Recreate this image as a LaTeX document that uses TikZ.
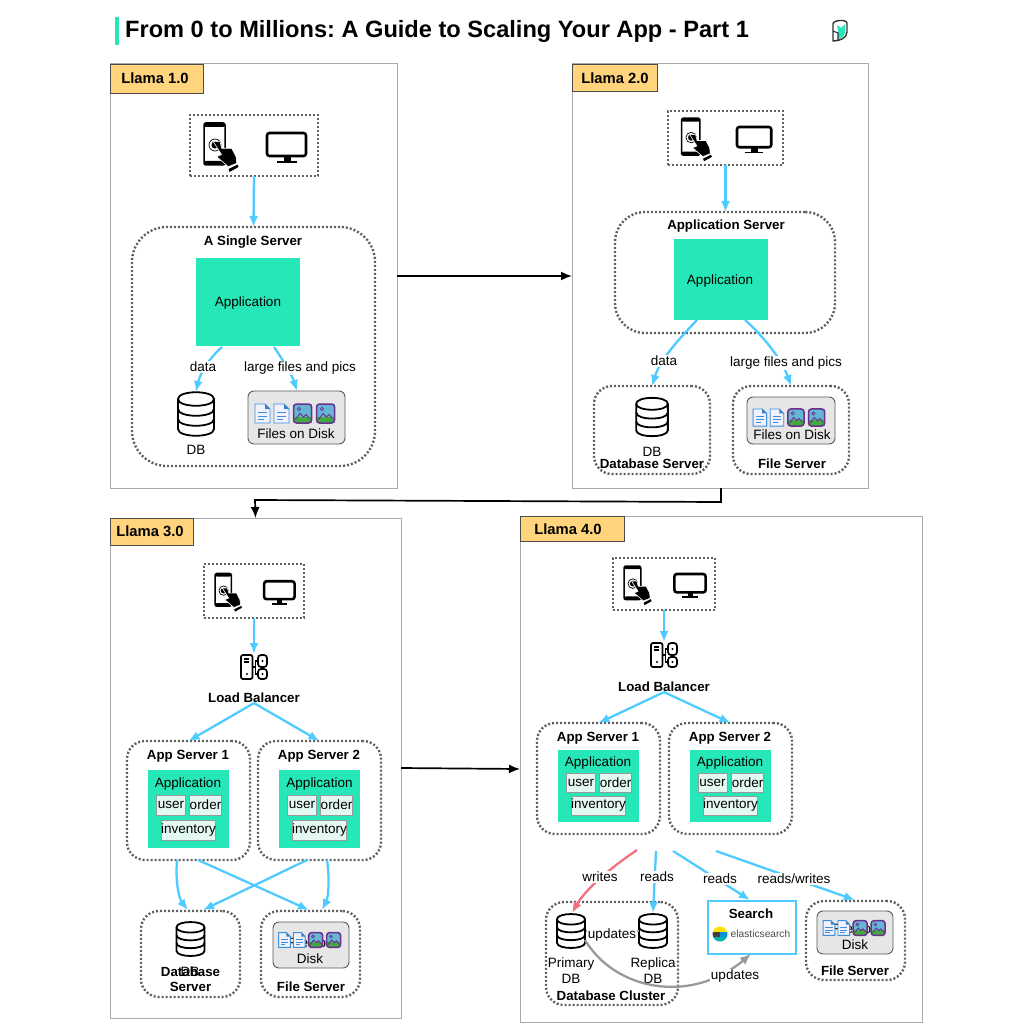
\documentclass[tikz,border=0pt]{standalone}
\usepackage{fontspec}
\setmainfont{Liberation Sans}
\usetikzlibrary{arrows.meta}
\frenchspacing

\definecolor{teal1}{HTML}{26E7B7}
\definecolor{sky1}{HTML}{4FCBFF}
\definecolor{rose1}{HTML}{F4707F}
\definecolor{tag1}{HTML}{FFD47D}
\definecolor{dots1}{HTML}{606060}
\definecolor{line1}{HTML}{AAAAAA}
\definecolor{mod1}{HTML}{E3F8F1}
\definecolor{disk1}{HTML}{E6E6E6}
\definecolor{doc1}{HTML}{3F8EDC}
\definecolor{img1}{HTML}{6B2D8E}

\tikzset{
  boxsize/.style 2 args={minimum width=#1pt,minimum height=#2pt},
  txt/.style={font=\fontsize{13.5}{16}\selectfont,inner sep=0pt,align=center,yshift=-1pt},
  bld/.style={font=\bfseries\fontsize{13.3}{15}\selectfont,inner sep=0pt,align=center,yshift=-1pt},
  lbl/.style={txt,fill=white,inner sep=1pt},
  panel/.style={draw=line1,line width=1pt,inner sep=0pt,outer sep=0pt},
  tagbox/.style={draw=black!70,fill=tag1,line width=.9pt,inner sep=0pt,outer sep=0pt},
  tagtxt/.style={inner sep=0pt,font=\bfseries\fontsize{14.8}{16}\selectfont},
  dotbox/.style={draw=dots1,line width=2.4pt,dash pattern=on 2pt off 2pt,inner sep=0pt,outer sep=0pt},
  appbox/.style={fill=teal1,inner sep=0pt,outer sep=0pt},
  modbox/.style={fill=mod1,draw=black!40,line width=1pt,txt,yshift=1pt,outer sep=0pt},
  diskbox/.style={fill=disk1,draw=black!65,line width=.9pt,rounded corners=6pt,inner sep=0pt,outer sep=0pt},
  spot/.style={inner sep=0pt,outer sep=0pt},
  flow/.style={draw=sky1,line width=2.3pt,-{Latex[length=11pt,width=9pt]}},
  wflow/.style={draw=rose1,line width=2.3pt,-{Latex[length=11pt,width=9pt]}},
  uflow/.style={draw=black!40,line width=2.3pt,-{Latex[length=11pt,width=9pt]}},
  stepflow/.style={draw=black,line width=1.7pt,-{Latex[length=11pt,width=9pt]}},
  phoneicon/.pic={
    \draw[line width=1.5pt,fill=white,rounded corners=2pt] (-10.5,-21) rectangle (10.5,21);
    \fill (-10.5,-21) [rounded corners=2pt] rectangle (10.5,-17);
    \fill (-10.5,17) [rounded corners=2pt] rectangle (10.5,21);
    \draw[line width=.7pt] (.5,1) circle [radius=6];
    \fill (.5,1) circle [radius=3.6];
    \fill[draw=white,line width=.6pt] (-1.2,-2.3) -- (5.5,-2.3) -- (7.2,4.3) -- (17.2,4.3) -- (21.5,12.7) -- (22.2,19.3) -- (13.8,22.7) -- (2.2,12.7) -- (7,10.5) -- cycle;
    \fill (14,25) -- (23,20.5) -- (24,23) -- (15,28) -- cycle;
  },
  monitoricon/.pic={
    \draw[line width=2.6pt,fill=white,rounded corners=2.5pt] (-19.5,-14) rectangle (19.5,9);
    \fill (-3,10) rectangle (4,14);
    \fill (-10,14) rectangle (10,16);
  },
  devices/.pic={
    \pic[transform shape] at (-39.5,-1.5) {phoneicon};
    \pic[transform shape] at (32.5,1.5) {monitoricon};
  },
  dbicon/.pic={
    \draw[line width=1.8pt,fill=white] (-18,-15) .. controls (-18,-24) and (18,-24) .. (18,-15) -- (18,15) .. controls (18,24) and (-18,24) .. (-18,15) -- cycle;
    \draw[line width=1.8pt] (-18,-15) .. controls (-18,-6) and (18,-6) .. (18,-15);
    \draw[line width=1.8pt] (-18,-5) .. controls (-18,4) and (18,4) .. (18,-5);
    \draw[line width=1.8pt] (-18,5) .. controls (-18,14) and (18,14) .. (18,5);
  },
  lbicon/.pic={
    \draw[line width=1.7pt,rounded corners=2pt] (-13,-12) rectangle (-1.5,12);
    \draw[line width=1.7pt,rounded corners=3pt] (4,-12) rectangle (13,0);
    \draw[line width=1.7pt,rounded corners=3pt] (4,2) rectangle (13,12);
    \draw[line width=1.4pt] (-1.5,0) -- (1.5,0) (4,-6) -- (1.5,-6) -- (1.5,7) -- (4,7);
    \draw[line width=1.1pt] (-10,-8) -- (-5,-8) (-10,-5) -- (-5,-5);
    \fill (-7,7) circle [radius=1.2];
    \fill (8.5,-6) circle [radius=1.2];
    \fill (8.5,7) circle [radius=1.2];
  },
  docicon/.pic={
    \draw[draw=doc1,fill=blue!5,line width=.9pt] (-7.5,-9.5) -- (2.5,-9.5) -- (7.5,-4.5) -- (7.5,9.5) -- (-7.5,9.5) -- cycle;
    \fill[doc1!90!black] (2.5,-9.5) -- (7.5,-4.5) -- (2.5,-4.5) -- cycle;
    \draw[doc1,line width=.9pt] (-4.5,-1) -- (4.5,-1) (-4.5,2.5) -- (4.5,2.5) (-4.5,6) -- (1,6);
  },
  imgicon/.pic={
    \fill[cyan!55!teal!70] (-9,-9.5) rectangle (9,9.5);
    \fill[green!55!black!75] (-8.5,3) -- (8.5,3) -- (8.5,9) -- (-8.5,9) -- cycle;
    \draw[img1,line width=.9pt] (-7,6) -- (-2.5,0) -- (1,3.5) -- (3.5,1) -- (7,5);
    \draw[img1,line width=.7pt] (-3.5,-4.5) circle [radius=1.7];
    \draw[img1,line width=1.5pt,rounded corners=3pt] (-9,-9.5) rectangle (9,9.5);
  },
  filerow/.pic={
    \pic[transform shape] at (-34,0) {docicon};
    \pic[transform shape] at (-15,0) {docicon};
    \pic[transform shape] at (6,0) {imgicon};
    \pic[transform shape] at (29,0) {imgicon};
  },
}

\begin{document}
\begin{tikzpicture}[x=1pt,y=-1pt]
\useasboundingbox (0,0) rectangle (1024,1024);
\fill[white] (0,0) rectangle (1024,1024);

% title and logo
\fill[teal1] (115,17) rectangle (118.5,45);
\node[anchor=west,inner sep=0pt,yshift=-1.5pt,font=\bfseries\fontsize{23.6}{26}\selectfont] (title) at (125,30) {From 0 to Millions: A Guide to Scaling Your App - Part 1};
\fill[teal1] (837,25) -- (841,28) -- (845,24) -- (845,32) .. controls (845,36) and (841,39) .. (838,39) -- (838,31) -- cycle;
\draw[line width=1.4pt,black!80,line join=round] (833,24) .. controls (833,20) and (846,19) .. (847,23) -- (847,32) .. controls (847,38) and (840,41) .. (833,41) -- cycle;
\draw[line width=1.1pt,black!80] (833,31) -- (838,33) -- (838,40);

% panels
\node[panel,boxsize={287}{424}] (panelA) at (253.5,276) {};
\node[panel,boxsize={296}{424}] (panelB) at (720,276) {};
\node[panel,boxsize={291}{500}] (panelC) at (255.5,768) {};
\node[panel,boxsize={402}{506}] (panelD) at (721,769) {};
\node[tagbox,boxsize={93}{29}] (tagA) at (156.5,78.5) {};
\node[tagbox,boxsize={85}{27}] (tagB) at (614.5,77.5) {};
\node[tagbox,boxsize={83}{27}] (tagC) at (151.5,531.5) {};
\node[tagbox,boxsize={104}{25}] (tagD) at (572,528.5) {};
\node[tagtxt] (tagAt) at (155,78) {Llama 1.0};
\node[tagtxt] (tagBt) at (615,78) {Llama 2.0};
\node[tagtxt] (tagCt) at (150,531) {Llama 3.0};
\node[tagtxt] (tagDt) at (568,529) {Llama 4.0};

% Llama 1.0
\node[dotbox,boxsize={128}{61}] (devA) at (254,145.5) {};
\pic at (devA) {devices};
\node[dotbox,rounded corners=35pt,boxsize={243}{239}] (srvA) at (253.5,346.5) {};
\node[bld] (srvAt) at (253,241) {A Single Server};
\node[appbox,boxsize={104}{88}] (appA) at (248,302) {};
\node[txt] (appAt) at (248,302) {Application};
\node[spot,boxsize={37}{44}] (dbA) at (196,414) {};
\pic at (dbA) {dbicon};
\node[txt] (dbAt) at (196,449) {DB};
\node[diskbox,boxsize={97}{53}] (diskA) at (296.5,417.5) {};
\pic at (296.5,413.5) {filerow};
\node[txt] (diskAt) at (296,433) {Files on Disk};
\coordinate (outA1) at (222,347);
\coordinate (outA2) at (274,347);
\coordinate (inA2) at (297,391);
\draw[flow] (devA.south) -- (srvA.north);
\draw[flow] (outA1) .. controls (205,362) and (199,378) .. (dbA.north);
\draw[flow] (outA2) .. controls (283,360) and (292,375) .. (inA2);
\node[lbl] (dataA) at (203,366) {data};
\node[lbl] (bigA) at (300,367) {large files and pics};

% Llama 2.0
\node[dotbox,boxsize={115}{54}] (devB) at (725.5,138) {};
\pic[scale=.88] at (devB) {devices};
\node[dotbox,rounded corners=30pt,boxsize={220}{121}] (srvB) at (725,272.5) {};
\node[bld] (srvBt) at (726,225) {Application Server};
\node[appbox,boxsize={94}{81}] (appB) at (721,279.5) {};
\node[txt] (appBt) at (720,280) {Application};
\node[dotbox,rounded corners=18pt,boxsize={116}{88}] (dbsB) at (652,430) {};
\node[spot,boxsize={33}{38}] (dbB) at (652,417) {};
\pic[scale=.88] at (dbB) {dbicon};
\node[txt] (dbBt) at (652,451) {DB};
\node[bld] (dbsBt) at (652,463) {Database Server};
\node[dotbox,rounded corners=18pt,boxsize={116}{88}] (fsB) at (791,430) {};
\node[diskbox,boxsize={88}{47}] (diskB) at (791,420.5) {};
\pic[scale=.9] at (790.5,417.5) {filerow};
\node[txt] (diskBt) at (792,434) {Files on Disk};
\node[bld] (fsBt) at (792,463) {File Server};
\coordinate (outB1) at (697,320);
\coordinate (outB2) at (745,320);
\draw[flow] (devB.south) -- (srvB.north -| devB.south);
\draw[flow] (outB1) .. controls (678,340) and (660,360) .. (dbsB.north);
\draw[flow] (outB2) .. controls (765,338) and (782,360) .. (fsB.north);
\node[lbl] (dataB) at (664,360) {data};
\node[lbl] (bigB) at (786,362) {large files and pics};

% Llama 3.0
\node[dotbox,boxsize={100}{54}] (devC) at (254,591) {};
\pic[scale=.78] at (devC) {devices};
\node[spot,boxsize={26}{26}] (lbC) at (254,667) {};
\pic at (lbC) {lbicon};
\node[bld] (lbCt) at (254,697) {Load Balancer};
\node[dotbox,rounded corners=18pt,boxsize={123}{119}] (srvC1) at (188.5,800.5) {};
\node[bld] (srvC1t) at (188,755) {App Server 1};
\node[appbox,boxsize={81}{78}] (appC1) at (188.5,809) {};
\node[txt] (appC1t) at (188,783) {Application};
\node[modbox,boxsize={29}{20}] (userC1) at (171,805) {user};
\node[modbox,boxsize={29}{20}] (orderC1) at (205.5,805) {order};
\node[modbox,boxsize={53}{20}] (invC1) at (188.5,830) {inventory};
\node[dotbox,rounded corners=18pt,boxsize={123}{119}] (srvC2) at (319.5,800.5) {};
\node[bld] (srvC2t) at (319,755) {App Server 2};
\node[appbox,boxsize={81}{78}] (appC2) at (319.5,809) {};
\node[txt] (appC2t) at (319.5,783) {Application};
\node[modbox,boxsize={29}{20}] (userC2) at (302,805) {user};
\node[modbox,boxsize={29}{20}] (orderC2) at (336.5,805) {order};
\node[modbox,boxsize={53}{20}] (invC2) at (319.5,830) {inventory};
\node[dotbox,rounded corners=18pt,boxsize={99}{86}] (dbsC) at (190.5,954) {};
\node[spot,boxsize={29}{31}] (dbC) at (190.5,939) {};
\pic[scale=.78] at (dbC) {dbicon};
\node[bld] (dbsCt) at (190.5,978.5) {Database\\Server};
\node[txt] (dbCt) at (190,971) {DB};
\node[dotbox,rounded corners=18pt,boxsize={99}{86}] (fsC) at (310.5,954) {};
\node[diskbox,boxsize={76}{46}] (diskC) at (311,945) {};
\node[txt] (diskCt) at (310,950) {Files on\\Disk};
\pic[scale=.78] at (311,940) {filerow};
\node[bld] (fsCt) at (311,986) {File Server};
\coordinate (outC1) at (177,860);
\coordinate (outC2) at (198,860);
\coordinate (outC3) at (307,860);
\coordinate (outC4) at (327,860);
\coordinate (inC1) at (188,910);
\coordinate (inC2) at (309,910);
\coordinate (inC3) at (203,910);
\coordinate (inC4) at (322,910);
\draw[flow] (devC.south) -- (lbC.north);
\draw[flow] (lbCt.south) -- (srvC1.north);
\draw[flow] (lbCt.south) -- (srvC2.north);
\draw[flow] (outC1) .. controls (175,885) and (180,900) .. (inC1);
\draw[flow] (outC2) -- (inC2);
\draw[flow] (outC3) -- (inC3);
\draw[flow] (outC4) .. controls (330,880) and (328,898) .. (inC4);

% Llama 4.0
\node[dotbox,boxsize={102}{52}] (devD) at (664,584) {};
\pic[scale=.8] at (devD) {devices};
\node[spot,boxsize={26}{26}] (lbD) at (664,655) {};
\pic at (lbD) {lbicon};
\node[bld] (lbDt) at (664,686) {Load Balancer};
\node[dotbox,rounded corners=18pt,boxsize={123}{111}] (srvD1) at (598.5,778.5) {};
\node[bld] (srvD1t) at (598,737) {App Server 1};
\node[appbox,boxsize={81}{72}] (appD1) at (598.5,786) {};
\node[txt] (appD1t) at (598,762) {Application};
\node[modbox,boxsize={29}{19}] (userD1) at (581,782.5) {user};
\node[modbox,boxsize={29}{19}] (orderD1) at (615.5,782.5) {order};
\node[modbox,boxsize={53}{19}] (invD1) at (598.5,805.5) {inventory};
\node[dotbox,rounded corners=18pt,boxsize={123}{111}] (srvD2) at (730.5,778.5) {};
\node[bld] (srvD2t) at (730,737) {App Server 2};
\node[appbox,boxsize={81}{72}] (appD2) at (730.5,786) {};
\node[txt] (appD2t) at (730,762) {Application};
\node[modbox,boxsize={29}{19}] (userD2) at (712.5,782.5) {user};
\node[modbox,boxsize={29}{19}] (orderD2) at (747.5,782.5) {order};
\node[modbox,boxsize={53}{19}] (invD2) at (730.5,805.5) {inventory};
\node[dotbox,rounded corners=18pt,boxsize={132}{103}] (dbsD) at (612,953.5) {};
\node[spot,boxsize={29}{32}] (dbD1) at (571,931) {};
\pic[scale=.78] at (dbD1) {dbicon};
\node[spot,boxsize={29}{32}] (dbD2) at (653,931) {};
\pic[scale=.78] at (dbD2) {dbicon};
\node[txt] (dbD1t) at (571,969.5) {Primary\\DB};
\node[txt] (dbD2t) at (653,969.5) {Replica\\DB};
\node[bld] (dbsDt) at (611,995) {Database Cluster};
\node[draw=sky1,line width=2.8pt,fill=white,inner sep=0pt,outer sep=0pt,boxsize={88}{53}] (srchD) at (752,927.5) {};
\node[bld] (srchDt) at (751,913) {Search};
\begin{scope}
  \clip (720,934) circle [radius=7.5];
  \fill[yellow!85!orange] (712,926) rectangle (728,931.5);
  \fill[black!75] (712,931.5) rectangle (720,936.5);
  \fill[cyan!80!blue] (720,931.5) rectangle (728,936.5);
  \fill[teal!60!cyan] (712,936.5) rectangle (728,942);
\end{scope}
\node[inner sep=0pt,text=black!70,font=\fontsize{10.2}{12}\selectfont] (elastD) at (760.5,933.5) {elasticsearch};
\node[dotbox,rounded corners=18pt,boxsize={99}{79}] (fsD) at (855.5,940.5) {};
\node[diskbox,boxsize={76}{43}] (diskD) at (855,932.5) {};
\node[txt] (diskDt) at (855,936) {Files on\\Disk};
\pic[scale=.78] at (855.5,928) {filerow};
\node[bld] (fsDt) at (855,970) {File Server};
\coordinate (outD1) at (637,850);
\coordinate (outD2) at (656,851);
\coordinate (outD3) at (673,851);
\coordinate (outD4) at (716,851);
\coordinate (inD1) at (572,913);
\coordinate (inD2) at (653,913);
\coordinate (inD3) at (750,900);
\coordinate (inD4) at (855,900);
\coordinate (outD5) at (585,940);
\coordinate (inD5) at (751,954);
\draw[flow] (devD.south) -- (lbD.north);
\draw[flow] (lbDt.south) -- (srvD1.north);
\draw[flow] (lbDt.south) -- (srvD2.north);
\draw[wflow] (outD1) .. controls (610,868) and (585,890) .. (inD1);
\draw[flow] (outD2) -- (inD2);
\draw[flow] (outD3) -- (inD3);
\draw[flow] (outD4) -- (inD4);
\draw[uflow] (outD5) .. controls (615,990) and (690,1005) .. (inD5);
\draw[black!40,line width=1.9pt] (dbD1.east) -- (dbD2.west);
\node[lbl] (wrD) at (600,876) {writes};
\node[lbl] (rdD1) at (657,876) {reads};
\node[lbl] (rdD2) at (720,878) {reads};
\node[lbl] (rwD) at (794,878) {reads/writes};
\node[lbl] (upD1) at (612,934) {updates};
\node[lbl] (upD2) at (735,975) {updates};

% panel to panel
\coordinate (stepA) at (721,502);
\coordinate (stepB) at (255,500);
\draw[stepflow] (panelA.east) -- (panelB.west);
\draw[stepflow] (panelC.east) -- (panelD.west);
\draw[stepflow] (panelB.south -| stepA) -- (stepA) -- (stepB) -- (panelC.north);
\end{tikzpicture}
\end{document}
